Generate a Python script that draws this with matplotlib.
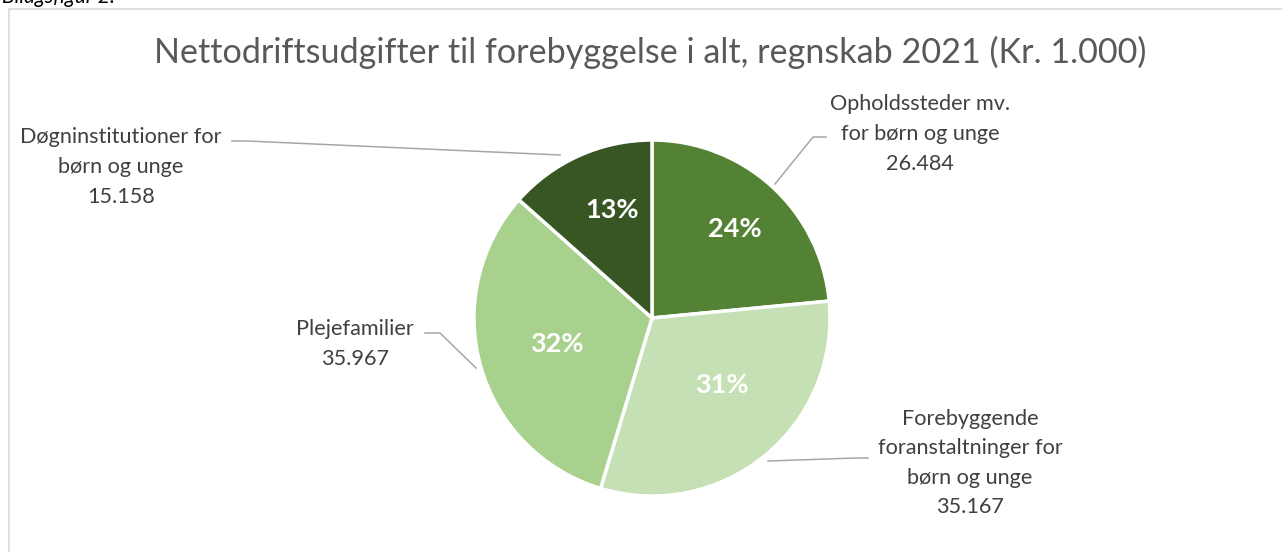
import matplotlib
matplotlib.use("Agg")
import matplotlib.pyplot as plt
from matplotlib.patches import Rectangle

# Data
categories = ["Opholdssteder mv.\nfor børn og unge",
              "Forebyggende\nforanstaltninger for\nbørn og unge",
              "Plejefamilier",
              "Døgninstitutioner for\nbørn og unge"]
values = [26484, 35167, 35967, 15158]
value_labels = ["26.484", "35.167", "35.967", "15.158"]
pct_labels = ["24%", "31%", "32%", "13%"]
colors = ["#548235", "#C5E0B4", "#A9D18E", "#375623"]
title = "Nettodriftsudgifter til forebyggelse i alt, regnskab 2021 (Kr. 1.000)"

W, H = 1282, 552
fig = plt.figure(figsize=(W / 100, H / 100), dpi=100)
ax = fig.add_axes([0, 0, 1, 1])
FONT = ["Lato", "DejaVu Sans"]

def Y(y):
    return H - y

# Border of chart area
ax.add_patch(Rectangle((9, Y(H + 20)), W + 40, H + 20 - 9, fill=False,
                       edgecolor="#D9D9D9", linewidth=1.2, zorder=0))

cx, cy, r = 652, 318, 178
wedges, _ = ax.pie(values, colors=colors, startangle=90, counterclock=False,
                   center=(cx, Y(cy)), radius=r, frame=True,
                   wedgeprops=dict(edgecolor="white", linewidth=2.5))

ax.set_xlim(0, W)
ax.set_ylim(0, H)
ax.set_aspect("equal")
ax.axis("off")

# Percentage labels
pct_pos = [(735, 229), (722, 385), (557, 344), (612, 210)]
for p, (x, y) in zip(pct_labels, pct_pos):
    ax.text(x, Y(y), p, color="white",
            fontsize=19.5, fontweight="bold", ha="center", va="center",
            family=FONT)

# Category labels
lab_pos = [(920, 134), (970, 463), (355, 344), (121, 167)]
for c, vl, (x, y) in zip(categories, value_labels, lab_pos):
    ax.text(x, Y(y), c + "\n" + vl, color="#404040", fontsize=15.6,
            ha="center", va="center", linespacing=1.6, family=FONT)

# Leader lines
leaders = [
    [(826, 137), (813, 137), (775, 184)],
    [(868, 458), (856, 458), (768, 461)],
    [(425, 333), (440, 333), (476, 368)],
    [(232, 141), (247, 141), (560, 155)],
]
for pts in leaders:
    xs = [p[0] for p in pts]
    ys = [Y(p[1]) for p in pts]
    ax.plot(xs, ys, color="#A6A6A6", linewidth=1.1)

# Title
ax.text(650, Y(52), title, color="#595959", fontsize=24.6, ha="center",
        va="center", family=FONT)

# Cut-off figure caption
ax.text(2, Y(3), "Bilagsfigur 2.", fontsize=15, style="italic",
        color="#000000", ha="left", va="baseline", family=FONT)

fig.savefig("out.png", dpi=100)
